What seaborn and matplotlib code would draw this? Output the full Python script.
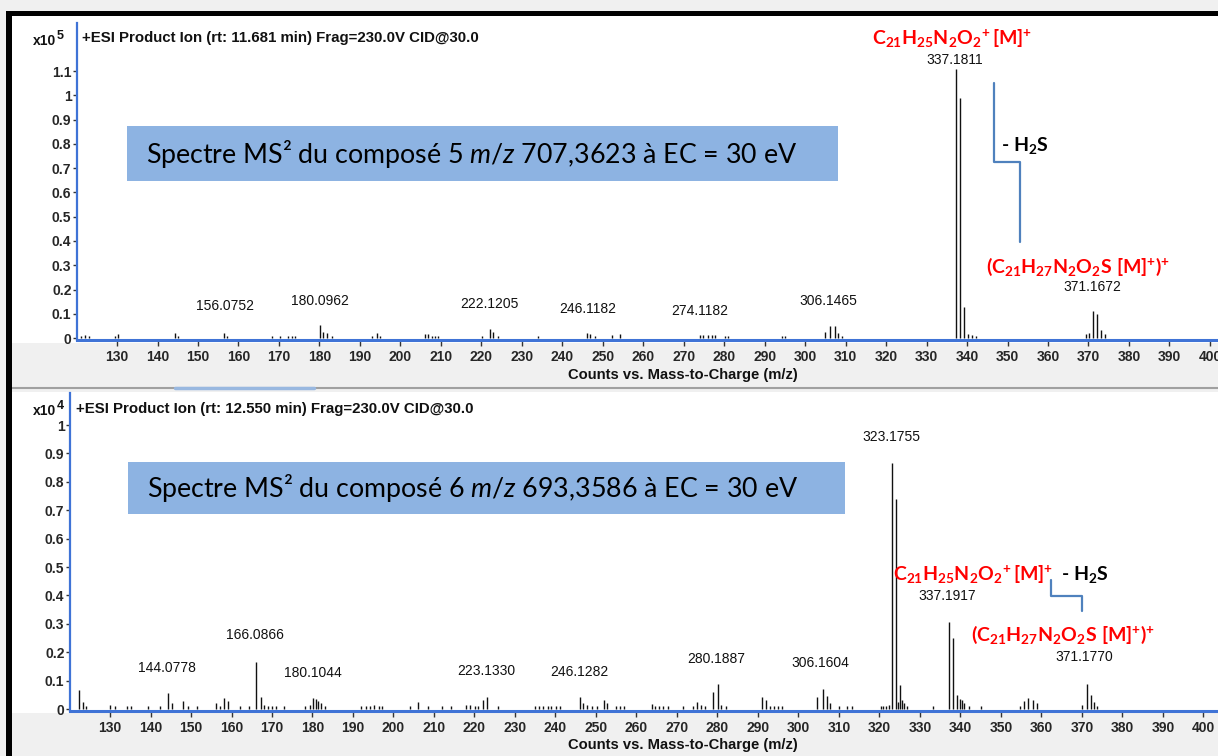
import matplotlib
matplotlib.use('Agg')
import matplotlib.pyplot as plt
import seaborn as sns
from matplotlib.patches import Rectangle
from matplotlib.lines import Line2D

# ---- top spectrum: compound 5, intensities in 1e5 counts ----
top_mz = [121.0, 122.1, 123.1, 129.5, 130.3, 144.3, 145.1, 156.3, 157.1,
          168.2, 170.3, 172.3, 173.1, 174.0, 180.1, 181.0, 181.8, 183.0,
          192.9, 194.1, 195.0, 206.1, 206.9, 207.7, 208.6, 209.4,
          220.1, 222.1, 223.0, 224.2, 234.1, 246.0, 246.8, 248.1, 252.2, 254.3,
          274.0, 274.8, 276.1, 276.9, 277.7, 280.2, 281.0, 294.2, 295.0,
          304.9, 306.1, 307.4, 308.2, 309.0,
          337.18, 338.18, 339.2, 340.2, 341.2, 342.2,
          369.5, 370.2, 371.17, 372.17, 373.2, 374.1]
top_int = [0.010, 0.012, 0.010, 0.010, 0.015, 0.022, 0.010, 0.022, 0.010,
           0.010, 0.010, 0.010, 0.010, 0.010, 0.054, 0.025, 0.022, 0.010,
           0.010, 0.022, 0.010, 0.015, 0.015, 0.010, 0.010, 0.010,
           0.010, 0.036, 0.025, 0.010, 0.008, 0.020, 0.015, 0.010, 0.012, 0.015,
           0.012, 0.012, 0.012, 0.012, 0.012, 0.010, 0.010, 0.010, 0.010,
           0.026, 0.050, 0.048, 0.020, 0.010,
           1.11, 0.99, 0.13, 0.015, 0.012, 0.010,
           0.015, 0.020, 0.110, 0.100, 0.035, 0.015]
top_labels = ['156.0752', '180.0962', '222.1205', '246.1182', '274.1182',
              '306.1465', '337.1811', '371.1672']
top_label_x = [156.7, 180.1, 222.1, 246.2, 274.0, 305.7, 337.0, 370.9]
top_label_y = [0.132, 0.154, 0.140, 0.118, 0.112, 0.152, 1.145, 0.209]

# ---- bottom spectrum: compound 6, intensities in 1e4 counts ----
bot_mz = [122.3, 123.3, 124.1, 130.0, 131.2, 134.2, 135.1, 139.3, 142.3,
          144.2, 145.2, 148.1, 149.2, 151.6, 156.1, 157.2, 158.2, 159.2,
          162.1, 164.2, 166.09, 167.2, 168.0, 169.1, 170.1, 171.1, 173.0,
          178.1, 179.4, 180.1, 180.9, 181.4, 182.1, 183.1,
          192.1, 193.1, 194.2, 195.2, 196.3, 197.2, 204.1, 206.0, 208.4,
          212.1, 214.1, 217.9, 218.9, 220.1, 220.9, 222.0, 223.13, 225.9,
          234.9, 236.0, 237.0, 238.1, 239.0, 240.1, 241.1,
          246.13, 246.9, 247.9, 248.9, 250.2, 252.0, 252.6, 254.9, 255.9, 257.0,
          263.8, 264.6, 265.6, 266.6, 267.9, 271.4, 274.0, 274.9, 275.9, 276.9,
          279.0, 280.19, 280.8, 282.0, 290.9, 292.0, 293.0, 294.0, 295.0, 296.0,
          304.7, 306.16, 307.0, 307.8, 309.9, 311.9, 313.1,
          320.3, 321.0, 321.7, 322.4, 323.18, 324.18, 324.6, 325.18, 325.6,
          326.0, 326.8, 333.3, 337.19, 338.19, 339.2, 339.8, 340.4, 341.0,
          342.0, 345.2, 354.7, 355.8, 356.7, 357.8, 358.8,
          370.0, 371.18, 372.18, 373.0, 373.8]
bot_int = [0.067, 0.026, 0.010, 0.015, 0.010, 0.010, 0.010, 0.010, 0.010,
           0.055, 0.020, 0.028, 0.010, 0.010, 0.020, 0.012, 0.038, 0.028,
           0.010, 0.010, 0.167, 0.041, 0.015, 0.012, 0.012, 0.012, 0.010,
           0.010, 0.015, 0.040, 0.036, 0.028, 0.020, 0.012,
           0.012, 0.012, 0.012, 0.015, 0.012, 0.012, 0.012, 0.025, 0.010,
           0.010, 0.010, 0.015, 0.015, 0.010, 0.012, 0.033, 0.044, 0.010,
           0.010, 0.010, 0.010, 0.010, 0.010, 0.010, 0.010,
           0.041, 0.020, 0.015, 0.012, 0.012, 0.033, 0.020, 0.010, 0.010, 0.010,
           0.018, 0.012, 0.010, 0.010, 0.010, 0.010, 0.010, 0.025, 0.015, 0.012,
           0.061, 0.088, 0.015, 0.012, 0.044, 0.033, 0.012, 0.012, 0.012, 0.012,
           0.041, 0.071, 0.047, 0.020, 0.012, 0.010, 0.010,
           0.010, 0.010, 0.012, 0.015, 0.868, 0.740, 0.025, 0.083, 0.030,
           0.020, 0.012, 0.010, 0.308, 0.250, 0.050, 0.035, 0.030, 0.020,
           0.010, 0.010, 0.010, 0.027, 0.039, 0.030, 0.020,
           0.015, 0.089, 0.050, 0.025, 0.012]
bot_labels = ['144.0778', '166.0866', '180.1044', '223.1330', '246.1282',
              '280.1887', '306.1604', '323.1755', '337.1917', '371.1770']
bot_label_x = [144.0, 165.8, 180.0, 222.8, 246.0, 279.8, 305.5, 323.0, 336.7, 370.6]
bot_label_y = [0.143, 0.260, 0.128, 0.135, 0.131, 0.175, 0.163, 0.959, 0.398, 0.182]

x_ticks = list(range(130, 410, 10))
top_yticks = [0, 0.1, 0.2, 0.3, 0.4, 0.5, 0.6, 0.7, 0.8, 0.9, 1.0, 1.1]
bot_yticks = [0, 0.1, 0.2, 0.3, 0.4, 0.5, 0.6, 0.7, 0.8, 0.9, 1.0]

W, H = 1218, 756
BLUE = '#3f73d6'
BOX = '#8db3e2'
RED = '#ff0000'

sns.set_style('white')
plt.rcParams['font.family'] = ['Liberation Sans', 'DejaVu Sans']
plt.rcParams['mathtext.fontset'] = 'custom'
plt.rcParams['mathtext.rm'] = 'Lato'
plt.rcParams['mathtext.it'] = 'Lato:italic'
plt.rcParams['mathtext.bf'] = 'Lato:bold'


def fx(x):
    return x / W


def fy(y):
    return 1 - y / H


def axes_rect(x0, y0, x1, y1):
    return [fx(x0), fy(y1), (x1 - x0) / W, (y1 - y0) / H]


def fmt_tick(v):
    return '0' if v == 0 else ('%g' % v)


def draw_panel(ax, mz, inten, xlim, ylim, yticks, labels, lx, ly):
    ax.set_facecolor('white')
    ax.vlines(mz, 0, inten, color='#111111', linewidth=1.0)
    for txt, x, y in zip(labels, lx, ly):
        ax.text(x, y, txt, ha='center', va='center', fontsize=10,
                color='#111111', clip_on=False)
    ax.set_xlim(*xlim)
    ax.set_ylim(*ylim)
    ax.set_xticks(x_ticks)
    ax.set_xticklabels([str(t) for t in x_ticks])
    ax.set_yticks(yticks)
    ax.set_yticklabels([fmt_tick(v) for v in yticks])
    sns.despine(ax=ax, top=True, right=True)
    ax.spines['left'].set_color(BLUE)
    ax.spines['left'].set_linewidth(1.6)
    ax.spines['bottom'].set_color(BLUE)
    ax.spines['bottom'].set_linewidth(2.2)
    ax.tick_params(axis='x', direction='out', length=4, width=1, color='#333333',
                   pad=3, labelsize=10, bottom=True)
    ax.tick_params(axis='y', direction='out', length=3, width=1, color='#333333',
                   pad=1, labelsize=10, left=True)
    for lab in ax.get_xticklabels() + ax.get_yticklabels():
        lab.set_fontweight('bold')
    ax.grid(False)


fig = plt.figure(figsize=(W / 100, H / 100), dpi=100, facecolor='#f0f0f0')

# white panel backgrounds, black frame and splitter
fig.add_artist(Rectangle((fx(12), fy(343)), 1, (343 - 16) / H,
                         transform=fig.transFigure, facecolor='white', edgecolor='none', zorder=0))
fig.add_artist(Rectangle((fx(12), fy(713)), 1, (713 - 392) / H,
                         transform=fig.transFigure, facecolor='white', edgecolor='none', zorder=0))
fig.add_artist(Rectangle((fx(6), 0), 6 / W, fy(11), transform=fig.transFigure,
                         facecolor='black', edgecolor='none', zorder=5))
fig.add_artist(Rectangle((fx(6), fy(16)), 1, 5 / H, transform=fig.transFigure,
                         facecolor='black', edgecolor='none', zorder=5))
fig.add_artist(Line2D([fx(12), 1], [fy(388), fy(388)], transform=fig.transFigure,
                      color='#a0a0a0', linewidth=1.5))
fig.add_artist(Line2D([fx(175), fx(314)], [fy(388), fy(388)], transform=fig.transFigure,
                      color='#99b8e0', linewidth=2.5))

ax1 = fig.add_axes(axes_rect(77, 23, W, 340))
draw_panel(ax1, top_mz, top_int, (120.1, 402.0), (-0.008, 1.298), top_yticks,
           top_labels, top_label_x, top_label_y)

ax2 = fig.add_axes(axes_rect(70, 393, W, 711))
draw_panel(ax2, bot_mz, bot_int, (120.12, 403.6), (-0.007, 1.113), bot_yticks,
           bot_labels, bot_label_x, bot_label_y)

# headers and exponent labels
for x, y, txt in [(82, 38, '+ESI Product Ion (rt: 11.681 min) Frag=230.0V CID@30.0'),
                  (76, 409, '+ESI Product Ion (rt: 12.550 min) Frag=230.0V CID@30.0')]:
    fig.text(fx(x), fy(y), txt, ha='left', va='center',
             fontsize=10.8, fontweight='bold', color='#111111')
for y, e in [(41, '5'), (411, '4')]:
    fig.text(fx(56), fy(y), 'x10', ha='right', va='center', fontsize=10,
             fontweight='bold', color='#111111')
    fig.text(fx(57), fy(y - 5), e, ha='left', va='center', fontsize=9,
             fontweight='bold', color='#111111')

for y in [375, 745]:
    fig.text(fx(683), fy(y), 'Counts vs. Mass-to-Charge (m/z)', ha='center',
             va='center', fontsize=10.6, fontweight='bold', color='#111111')

# title boxes
for (x0, y0, x1, y1), txt in [((127, 126, 838, 181), 'Spectre MS² du composé 5 $\\mathit{m/z}$ 707,3623 à EC = 30 eV'),
                              ((128, 462, 845, 514), 'Spectre MS² du composé 6 $\\mathit{m/z}$ 693,3586 à EC = 30 eV')]:
    fig.add_artist(Rectangle((fx(x0), fy(y1)), (x1 - x0) / W, (y1 - y0) / H,
                             transform=fig.transFigure, facecolor=BOX, edgecolor='none', zorder=3))
    fig.text(fx(x0 + 19), fy((y0 + y1) / 2), txt, ha='left', va='center',
             fontsize=19.3, family='Lato', color='black', zorder=4)

# top annotations
f1 = r'$\mathbf{C_{21}H_{25}N_{2}O_{2}{}^{+}\,[M]^{+}}$'
f2 = r'$\mathbf{(C_{21}H_{27}N_{2}O_{2}S\ [M]^{+})^{+}}$'
loss = r'- H$_{\mathbf{2}}$S'
ax1.text(336.2, 1.231, f1, ha='center', va='center', fontsize=14, color=RED, clip_on=False)
ax1.text(367.5, 0.294, f2, ha='center', va='center', fontsize=14, color=RED, clip_on=False)
ax1.text(348.5, 0.795, loss, ha='left', va='center', fontsize=14, family='Lato',
         fontweight='bold', color='black', clip_on=False)
ax1.plot([346.7, 346.7, 353.2, 353.2], [1.049, 0.724, 0.724, 0.397], color='#4f81bd', linewidth=1.6)

# bottom annotations
ax2.text(343.2, 0.472, f1, ha='center', va='center', fontsize=14, color=RED, clip_on=False)
ax2.text(365.4, 0.260, f2, ha='center', va='center', fontsize=14, color=RED, clip_on=False)
ax2.text(364.9, 0.472, loss, ha='left', va='center', fontsize=14, family='Lato',
         fontweight='bold', color='black', clip_on=False)
ax2.plot([362.4, 362.4, 370.1, 370.1], [0.454, 0.398, 0.398, 0.346], color='#4f81bd', linewidth=1.6)

fig.savefig('out.png', dpi=100, facecolor=fig.get_facecolor())
